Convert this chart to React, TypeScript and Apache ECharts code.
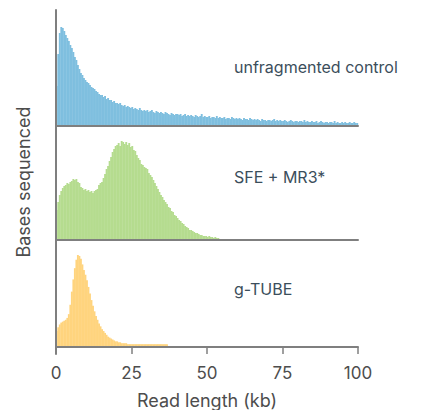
import React, { useEffect, useRef } from "react";
import * as echarts from "echarts";

// Read length bins (kb) and tick labels
const BIN_KB = 0.5;
const X_MIN = 0;
const X_MAX = 100;
const X_STEP = 25;
const xAxisName = "Read length (kb)";
const yAxisName = "Bases sequenced";
const panelLabels = ["unfragmented control", "SFE + MR3*", "g-TUBE"];
const panelColors = ["#7fbfdf", "#b5dc8f", "#ffd47e"];
// relative "bases sequenced" per 0.5 kb bin (arbitrary units, per panel scale)
const panelMax = [116, 114, 114];

const unfragmented = [
  40, 72, 93, 99, 98, 95, 91, 88, 85, 81,
  78, 74, 69, 66, 61, 57, 53, 51, 48, 46,
  44, 43, 41, 39, 38, 37, 35, 34, 32, 31,
  31, 29, 30, 27, 28, 26, 26, 24, 25, 23,
  23, 22, 23, 21, 20, 21, 19, 20, 19, 18,
  19, 17, 18, 17, 16, 18, 16, 15, 16, 15,
  16, 14, 15, 16, 14, 13, 15, 14, 13, 14,
  13, 12, 14, 13, 12, 11, 13, 12, 11, 12,
  12, 11, 12, 10, 11, 12, 10, 11, 10, 11,
  10, 9, 11, 10, 9, 10, 12, 9, 10, 9,
  9, 10, 8, 9, 9, 8, 10, 8, 9, 8,
  8, 9, 7, 8, 8, 7, 9, 8, 7, 8,
  7, 8, 7, 6, 8, 7, 7, 6, 8, 7,
  6, 7, 6, 7, 6, 5, 7, 6, 6, 5,
  6, 6, 5, 6, 7, 5, 6, 5, 6, 5,
  5, 6, 5, 4, 5, 6, 5, 4, 5, 5,
  4, 5, 5, 4, 6, 4, 5, 4, 4, 5,
  4, 4, 5, 3, 4, 5, 4, 3, 4, 4,
  3, 4, 4, 3, 5, 3, 4, 3, 3, 4,
  3, 4, 3, 3, 4, 3, 3, 4, 3, 3,
];

const sfeMr3 = [
  30, 38, 45, 49, 52, 54, 55, 57, 56, 58,
  59, 61, 60, 61, 58, 57, 53, 52, 50, 51,
  49, 50, 48, 49, 47, 49, 50, 51, 55, 57,
  58, 62, 66, 71, 74, 79, 83, 88, 91, 94,
  95, 97, 94, 99, 98, 96, 98, 95, 97, 93,
  94, 90, 89, 85, 82, 80, 76, 75, 73, 72,
  71, 67, 65, 63, 60, 57, 54, 51, 48, 45,
  43, 40, 38, 36, 33, 32, 29, 28, 25, 24,
  22, 20, 19, 17, 16, 14, 13, 12, 10, 10,
  9, 8, 7, 7, 6, 5, 5, 4, 4, 4,
  3, 4, 3, 3, 2, 3, 2, 2,
];

const gTube = [
  17, 21, 24, 26, 27, 28, 29, 31, 35, 45,
  59, 72, 84, 93, 98, 97, 94, 88, 82, 77,
  71, 64, 57, 50, 44, 38, 33, 29, 25, 22,
  19, 17, 15, 13, 11, 10, 9, 8, 7, 6,
  6, 5, 5, 4, 4, 4, 4, 3, 3, 3,
  3, 3, 3, 3, 3, 3, 3, 3, 3, 3,
  3, 3, 3, 3, 3, 3, 3, 3, 3, 3, 3, 3, 3, 3,
];

const panels = [unfragmented, sfeMr3, gTube];

const FONT = "Inter, 'Noto Sans', sans-serif";
const AXIS_COLOR = "#7f7f7f";
const TEXT_COLOR = "#4d4d4d";
const LABEL_COLOR = "#3b4e5b";

export default function App() {
  const ref = useRef<HTMLDivElement>(null);

  useEffect(() => {
    if (!ref.current) return;
    const chart = echarts.init(ref.current, undefined, { renderer: "svg" });

    const left = 56;
    const width = 302;
    const tops = [10, 126, 240];
    const heights = [116, 114, 114];
    const labelY = [67, 177, 289];

    const grids: any[] = tops.map((t, i) => ({ left, width, top: t, height: heights[i] }));
    // full-height grid carrying the continuous left axis
    grids.push({ left, width, top: 10, height: 344 });

    const xAxes: any[] = panels.map((_, i) => {
      const isBottom = i === panels.length - 1;
      return {
        type: "value",
        gridIndex: i,
        min: X_MIN,
        max: X_MAX,
        interval: X_STEP,
        z: 10,
        axisLine: { show: true, onZero: false, lineStyle: { color: AXIS_COLOR, width: 2 } },
        axisTick: { show: isBottom, length: 7, lineStyle: { color: AXIS_COLOR, width: 1.5 } },
        axisLabel: {
          show: isBottom,
          color: TEXT_COLOR,
          fontSize: 17,
          fontFamily: FONT,
          margin: 17,
        },
        splitLine: { show: false },
        name: isBottom ? xAxisName : "",
        nameLocation: "middle",
        nameGap: 44,
        nameTextStyle: { color: TEXT_COLOR, fontSize: 18, fontFamily: FONT },
      };
    });
    xAxes.push({
      type: "value",
      gridIndex: 3,
      min: X_MIN,
      max: X_MAX,
      show: false,
    });

    const yAxes: any[] = panels.map((_, i) => ({
      type: "value",
      gridIndex: i,
      min: 0,
      max: panelMax[i],
      axisLine: { show: false },
      axisTick: { show: false },
      axisLabel: { show: false },
      splitLine: { show: false },
    }));
    yAxes.push({
      type: "value",
      gridIndex: 3,
      min: 0,
      max: 1,
      z: 10,
      axisLine: { show: true, onZero: false, lineStyle: { color: AXIS_COLOR, width: 2 } },
      axisTick: { show: false },
      axisLabel: { show: false },
      splitLine: { show: false },
      name: yAxisName,
      nameLocation: "middle",
      nameGap: 24,
      nameTextStyle: { color: TEXT_COLOR, fontSize: 18, fontFamily: FONT },
    });

    const series = panels.map((vals, i) => ({
      type: "bar",
      xAxisIndex: i,
      yAxisIndex: i,
      barWidth: 1.9,
      silent: true,
      itemStyle: { color: panelColors[i] },
      data: vals.map((v, k) => [(k + 0.5) * BIN_KB, v]),
    }));

    const graphic = panelLabels.map((t, i) => ({
      type: "text",
      x: 234,
      y: labelY[i],
      style: {
        text: t,
        fill: LABEL_COLOR,
        fontSize: 16,
        fontFamily: FONT,
        verticalAlign: "middle",
        align: "left",
      },
    }));

    chart.setOption({
      animation: false,
      grid: grids,
      xAxis: xAxes,
      yAxis: yAxes,
      series,
      graphic,
    });

    return () => chart.dispose();
  }, []);

  return (
    <div
      ref={ref}
      style={{ position: "absolute", left: 0, top: 0, width: 428, height: 410, background: "#fff" }}
    />
  );
}
